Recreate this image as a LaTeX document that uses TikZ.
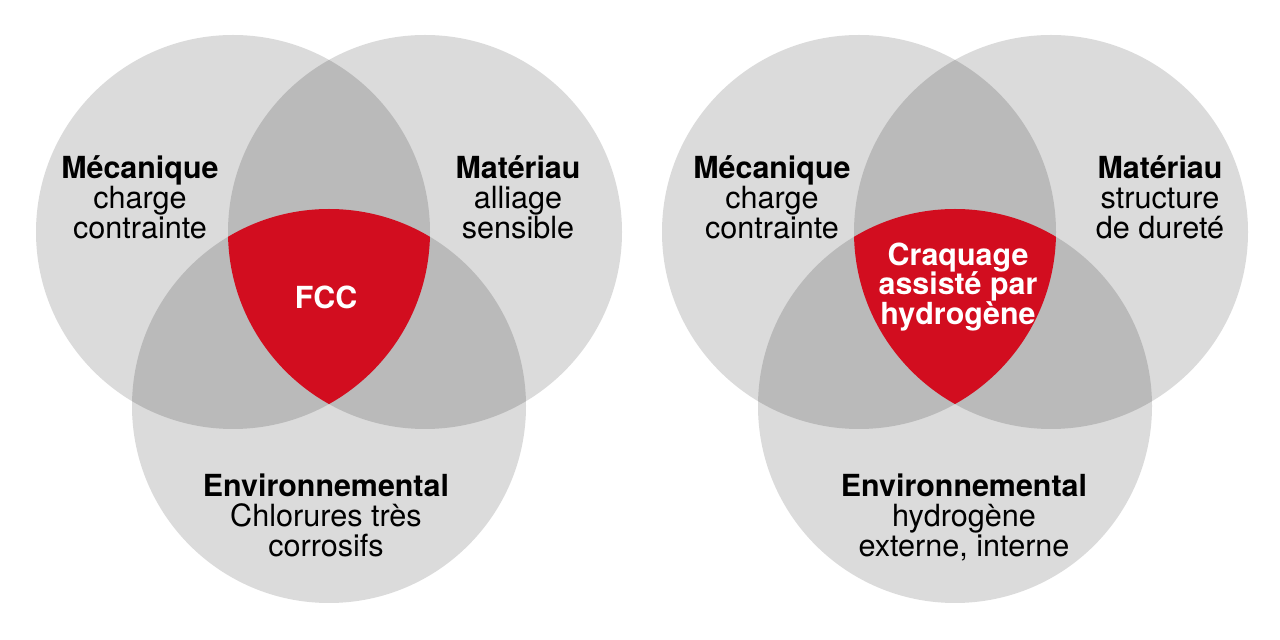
\documentclass[tikz,border=0pt]{standalone}
\usepackage{fontspec}
\setmainfont{TeX Gyre Heros}
\definecolor{lightg}{HTML}{DBDBDB}
\definecolor{darkg}{HTML}{BABABA}
\definecolor{fccred}{HTML}{D20D1F}
\tikzset{
  lbl/.style={anchor=base,inner sep=0pt,font=\fontsize{15.3}{15}\selectfont,text=black},
  ttl/.style={lbl,font=\fontsize{15.2}{15}\selectfont\bfseries},
  ctr/.style={ttl,text=white},
}
\begin{document}
\begin{tikzpicture}[x=0.5pt,y=-0.5pt]
\useasboundingbox[fill=white] (0,0) rectangle (1280,640);
\def\R{197}
\foreach \s in {0,626}{
  \begin{scope}[xshift=\s*0.5pt]
    \fill[lightg] (233,232) circle (\R);
    \fill[lightg] (425,232) circle (\R);
    \fill[lightg] (329,406) circle (\R);
    \begin{scope}
      \clip (233,232) circle (\R);
      \fill[darkg] (425,232) circle (\R);
      \fill[darkg] (329,406) circle (\R);
    \end{scope}
    \begin{scope}
      \clip (425,232) circle (\R);
      \fill[darkg] (329,406) circle (\R);
    \end{scope}
    \begin{scope}
      \clip (233,232) circle (\R);
      \clip (425,232) circle (\R);
      \fill[fccred] (329,406) circle (\R);
    \end{scope}
  \end{scope}
}
% left diagram
\node[ttl] (m1) at (140,179) {Mécanique};
\node[lbl] (m1a) at (140,209) {charge};
\node[lbl] (m1b) at (140,239) {contrainte};
\node[ttl] (t1) at (518,179) {Matériau};
\node[lbl] (t1a) at (518,209) {alliage};
\node[lbl] (t1b) at (518,239) {sensible};
\node[ctr] (f1) at (326,309) {FCC};
\node[ttl] (e1) at (326,497) {Environnemental};
\node[lbl] (e1a) at (326,527) {Chlorures très};
\node[lbl] (e1b) at (326,557) {corrosifs};
% right diagram
\node[ttl] (m2) at (772,179) {Mécanique};
\node[lbl] (m2a) at (772,209) {charge};
\node[lbl] (m2b) at (772,239) {contrainte};
\node[ttl] (t2) at (1160,179) {Matériau};
\node[lbl] (t2a) at (1160,209) {structure};
\node[lbl] (t2b) at (1160,239) {de dureté};
\node[ctr] (h1) at (958,266) {Craquage};
\node[ctr] (h2) at (958,295) {assisté par};
\node[ctr] (h3) at (958,325) {hydrogène};
\node[ttl] (e2) at (964,497) {Environnemental};
\node[lbl] (e2a) at (964,527) {hydrogène};
\node[lbl] (e2b) at (964,557) {externe, interne};
\end{tikzpicture}
\end{document}
